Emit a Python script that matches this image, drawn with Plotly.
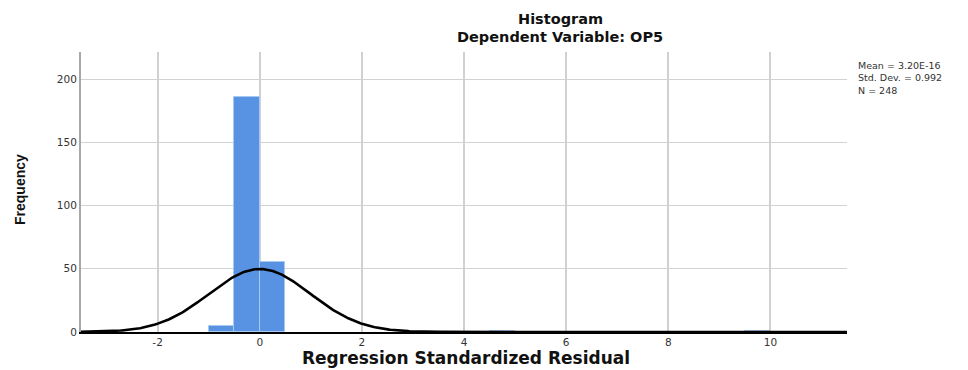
import numpy as np
import plotly.graph_objects as go

# ---- data ----
bin_centers = [-0.75, -0.25, 0.25, 4.75, 9.75]
bin_counts = [5, 186, 55, 1, 1]
bin_width = 0.5
stat_mean = 3.20e-16
stat_sd = 0.992
stat_n = 248
x_ticks = [-2, 0, 2, 4, 6, 8, 10]
y_ticks = [0, 50, 100, 150, 200]
stats_lines = ["Mean = 3.20E-16", "Std. Dev. = 0.992", "N = 248"]

# plot box in pixels
L, R, T, B = 81, 847, 52, 332
W, H = 968, 370
pw, ph = R - L, B - T

def px(x):
    return (x - L) / pw

def py(y):
    return (B - y) / ph

# normal curve from the reported statistics
xs = np.linspace(-3.5, 11.5, 600)
ys = stat_n * bin_width * np.exp(-0.5 * ((xs - stat_mean) / stat_sd) ** 2) / (stat_sd * np.sqrt(2 * np.pi))

fig = go.Figure()
fig.add_trace(go.Bar(
    x=bin_centers, y=bin_counts, width=[bin_width] * len(bin_centers),
    marker=dict(color="#5893e3", line=dict(color="#a9c8f0", width=1)),
    showlegend=False, hoverinfo="x+y",
))
fig.add_trace(go.Scatter(
    x=xs, y=ys, mode="lines", line=dict(color="black", width=2.6),
    showlegend=False, hoverinfo="skip",
))

tickfont = dict(family="DejaVu Sans", size=10.5, color="#333333")
fig.update_layout(
    width=W, height=H, autosize=False,
    margin=dict(l=L, r=W - R, t=T, b=H - B, pad=0),
    paper_bgcolor="white", plot_bgcolor="white",
    bargap=0,
    xaxis=dict(range=[-3.5, 11.5], tickvals=x_ticks, ticktext=[str(v) for v in x_ticks],
               showgrid=True, gridcolor="#d0d0d0", gridwidth=1.5, zeroline=False,
               showline=True, linecolor="black", linewidth=1.5, ticks="",
               tickfont=tickfont, fixedrange=True),
    yaxis=dict(range=[0, 221.5], tickvals=y_ticks, ticktext=[str(v) for v in y_ticks],
               showgrid=True, gridcolor="#d2d2d2", gridwidth=1, zeroline=False,
               showline=True, linecolor="#a8a8a8", linewidth=2, ticks="",
               tickfont=tickfont, fixedrange=True),
)

anns = [
    dict(text="<b>Histogram</b>", x=px(560), y=py(19), font=dict(family="DejaVu Sans", size=14.5, color="#111111"),
         xanchor="center", yanchor="middle"),
    dict(text="<b>Dependent Variable: OP5</b>", x=px(560), y=py(37), font=dict(family="DejaVu Sans", size=14.5, color="#111111"),
         xanchor="center", yanchor="middle"),
    dict(text="<b>Regression Standardized Residual</b>", x=px(466), y=py(358),
         font=dict(family="DejaVu Sans", size=17, color="#111111"), xanchor="center", yanchor="middle"),
    dict(text="<b>Frequency</b>", x=px(20), y=py(190), textangle=-90,
         font=dict(family="Liberation Sans Narrow, Arial Narrow, Liberation Sans", size=14, color="#111111"),
         xanchor="center", yanchor="middle"),
    dict(text="<br>".join(stats_lines), x=px(856), y=py(78), xanchor="left", yanchor="middle", align="left",
         font=dict(family="DejaVu Sans", size=9.5, color="#333333")),
]
for a in anns:
    a.update(xref="paper", yref="paper", showarrow=False)
fig.update_layout(annotations=anns)

fig.write_html("out.html", config={"displayModeBar": False},
               post_script="document.body.style.margin='0px';document.body.style.padding='0px';")
